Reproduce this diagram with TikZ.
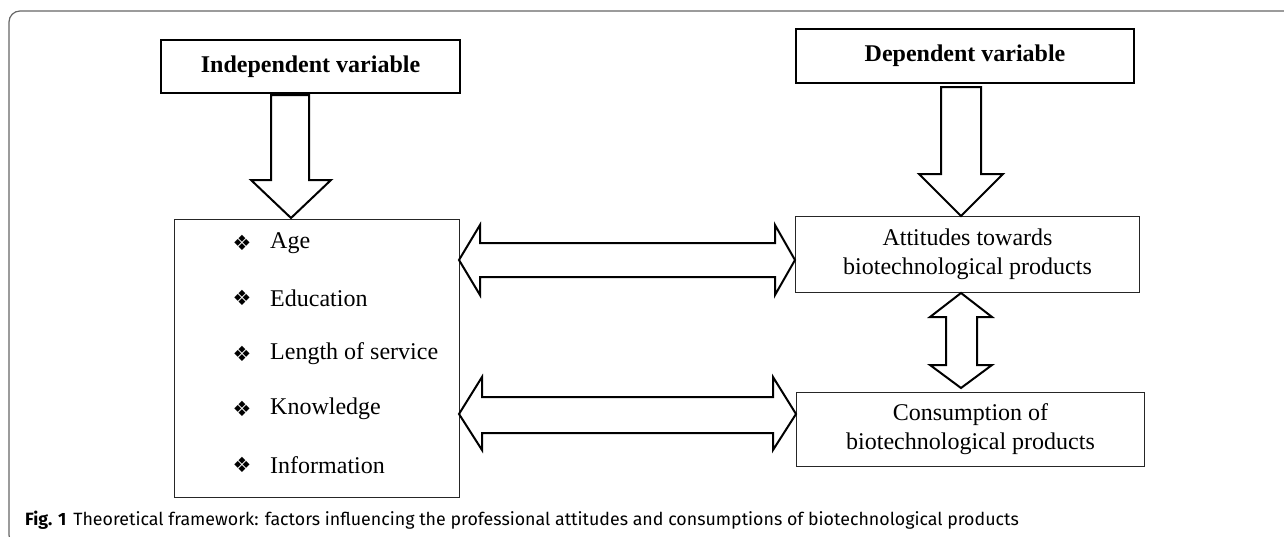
\documentclass[tikz,border=0pt]{standalone}
\usepackage{fontspec}
\setmainfont{Liberation Serif}
\newfontfamily\capfont{Fira Sans}
\newfontfamily\symfont{DejaVu Sans}
\begin{document}
\begin{tikzpicture}[x=1pt,y=-1pt,
  font=\fontsize{24}{29}\selectfont,
  thickbox/.style={draw, line width=2pt, inner sep=0pt},
  thinbox/.style={draw=black!85, line width=1pt, inner sep=0pt, align=center},
  barrow/.style={draw, line width=2pt, fill=white, line join=miter},
  itemtext/.style={anchor=west, inner sep=0pt},
  bullet/.style={anchor=center, inner sep=0pt, font=\symfont\fontsize{21}{21}\selectfont}]
\useasboundingbox (0,0) rectangle (1284,536);
\begin{scope}
  \clip (0,0) rectangle (1284,536);
  \draw[black!60, line width=1.2pt, rounded corners=11pt] (9,11) rectangle (1330,546);
\end{scope}

% header boxes
\node[thickbox, minimum width=299pt, minimum height=53pt, anchor=north west] (indep) at (160,39) {\bfseries Independent variable};
\node[thickbox, minimum width=338pt, minimum height=54pt, anchor=north west] (dep) at (795,28) {\bfseries Dependent variable};

% list box
\node[thinbox, minimum width=285pt, minimum height=278pt, anchor=north west] (list) at (174,219) {};
\node[bullet] (b1) at (242,243) {❖};
\node[bullet] (b2) at (242,298) {❖};
\node[bullet] (b3) at (242,354) {❖};
\node[bullet] (b4) at (242,409) {❖};
\node[bullet] (b5) at (242,465) {❖};
\node[itemtext] (i1) at (270,243) {Age};
\node[itemtext] (i2) at (270,298) {Education};
\node[itemtext] (i3) at (270,354) {Length of service};
\node[itemtext] (i4) at (270,409) {Knowledge};
\node[itemtext] (i5) at (270,465) {Information};

% right boxes
\node[thinbox, minimum width=344pt, minimum height=76pt, anchor=north west] (att) at (795,216) {Attitudes towards\\biotechnological products};
\node[thinbox, minimum width=348pt, minimum height=74pt, anchor=north west] (cons) at (796,392) {Consumption of\\biotechnological products};

% block arrows
\draw[barrow] (271,95) -- (309,95) -- (309,180) -- (331,180) -- (291,218) -- (251,180) -- (271,180) -- cycle;
\draw[barrow] (941,87) -- (981,87) -- (981,174) -- (1003,174) -- (961,216) -- (919,174) -- (941,174) -- cycle;
\draw[barrow] (459,260) -- (480,225) -- (480,243) -- (775,243) -- (775,225) -- (795,260) -- (775,295) -- (775,277) -- (480,277) -- (480,295) -- cycle;
\draw[barrow] (459,414) -- (482,377) -- (482,397) -- (773,397) -- (773,377) -- (796,414) -- (773,450) -- (773,433) -- (482,433) -- (482,450) -- cycle;
\draw[barrow] (961,293) -- (992,317) -- (977,317) -- (977,365) -- (992,365) -- (961,388) -- (930,365) -- (946,365) -- (946,317) -- (930,317) -- cycle;

% caption
\node[anchor=base west, inner sep=0pt] (cap) at (25,525) {\capfont\fontsize{17.8}{20}\selectfont\textbf{Fig. 1}\hspace{7pt}Theoretical framework: factors influencing the professional attitudes and consumptions of biotechnological products};
\end{tikzpicture}
\end{document}
